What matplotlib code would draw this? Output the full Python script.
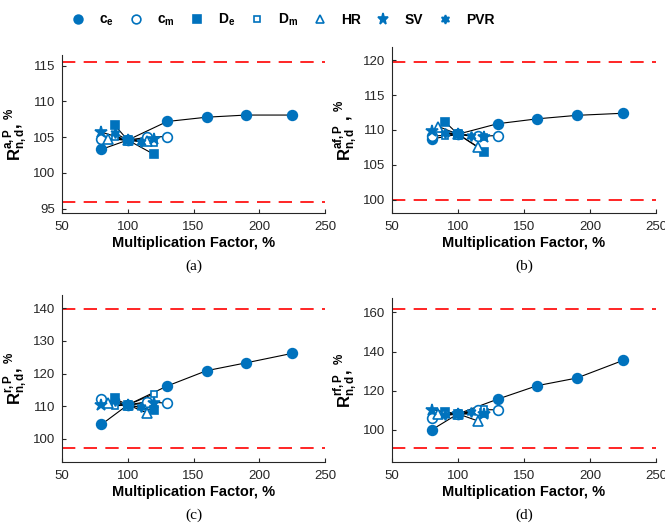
import matplotlib
matplotlib.use('Agg')
import matplotlib.pyplot as plt
from matplotlib.lines import Line2D

plt.rcParams['font.family'] = ['Liberation Sans', 'DejaVu Sans']
plt.rcParams['mathtext.fontset'] = 'custom'
plt.rcParams['mathtext.rm'] = 'Liberation Sans'
plt.rcParams['mathtext.bf'] = 'Liberation Sans:bold'
plt.rcParams['mathtext.it'] = 'Liberation Sans:italic'

BLUE = '#0072BD'

# multiplication factors (%) for each varied parameter
x_ce = [80, 100, 130, 160, 190, 225]
x_cm = [80, 100, 115, 130]
x_De = [90, 100, 120]
x_Dm = [90, 100, 120]
x_HR = [85, 100, 115]
x_SV = [80, 100, 120]
x_PVR = [90, 100, 110]

# panel (a) R^{a,P}
a_ce = [103.3, 104.6, 107.2, 107.8, 108.1, 108.1]
a_cm = [104.8, 104.6, 105.0, 105.1]
a_De = [106.7, 104.6, 102.6]
a_Dm = [105.0, 104.6, 104.2]
a_HR = [104.8, 104.6, 104.5]
a_SV = [105.7, 104.6, 104.7]
a_PVR = [105.6, 104.6, 104.4]

# panel (b) R^{af,P}
b_ce = [108.7, 109.4, 110.9, 111.6, 112.1, 112.4]
b_cm = [109.1, 109.4, 109.1, 109.2]
b_De = [111.2, 109.4, 106.9]
b_Dm = [109.1, 109.4, 109.0]
b_HR = [110.5, 109.4, 107.6]
b_SV = [109.9, 109.4, 109.0]
b_PVR = [109.6, 109.4, 109.1]

# panel (c) R^{r,P}
c_ce = [104.4, 110.4, 116.2, 120.9, 123.3, 126.2]
c_cm = [112.2, 110.4, 111.4, 110.9]
c_De = [112.4, 110.4, 108.7]
c_Dm = [110.1, 110.4, 113.8]
c_HR = [111.1, 110.4, 107.9]
c_SV = [110.4, 110.4, 111.1]
c_PVR = [111.5, 110.4, 109.7]

# panel (d) R^{rf,P}
d_ce = [100.0, 108.2, 115.7, 122.6, 126.5, 135.5]
d_cm = [106.3, 108.2, 110.3, 110.3]
d_De = [108.9, 108.2, 108.6]
d_Dm = [108.0, 108.2, 110.8]
d_HR = [108.2, 108.2, 104.6]
d_SV = [110.3, 108.2, 108.1]
d_PVR = [107.8, 108.2, 109.4]

# red dashed limits
a_lim = [96.0, 115.5]
b_lim = [99.9, 119.7]
c_lim = [97.2, 139.7]
d_lim = [90.9, 161.9]

hexagram = (6, 1, 0)
styles = [
    ('o', True, 7, r'$\mathbf{c_e}$'),
    ('o', False, 7, r'$\mathbf{c_m}$'),
    ('s', True, 6, r'$\mathbf{D_e}$'),
    ('s', False, 5, r'$\mathbf{D_m}$'),
    ('^', False, 7, 'HR'),
    ('*', True, 9, 'SV'),
    (hexagram, True, 7, 'PVR'),
]
xs = [x_ce, x_cm, x_De, x_Dm, x_HR, x_SV, x_PVR]

panels = [
    ([a_ce, a_cm, a_De, a_Dm, a_HR, a_SV, a_PVR], a_lim, (94.4, 116.5), [95, 100, 105, 110, 115],
     r'$\mathbf{R^{a,P}_{n,d}}$, $\mathbf{^{\%}}$', '(a)', [62, 55, 325, 213]),
    ([b_ce, b_cm, b_De, b_Dm, b_HR, b_SV, b_PVR], b_lim, (98.1, 121.9), [100, 105, 110, 115, 120],
     r'$\mathbf{R^{af,P}_{n,d}}$ , $\mathbf{^{\%}}$', '(b)', [392, 47, 656, 213]),
    ([c_ce, c_cm, c_De, c_Dm, c_HR, c_SV, c_PVR], c_lim, (92.9, 144.1), [100, 110, 120, 130, 140],
     r'$\mathbf{R^{r,P}_{n,d}}$, $\mathbf{^{\%}}$', '(c)', [62, 295, 325, 462]),
    ([d_ce, d_cm, d_De, d_Dm, d_HR, d_SV, d_PVR], d_lim, (83.6, 167.4), [100, 120, 140, 160],
     r'$\mathbf{R^{rf,P}_{n,d}}$, $\mathbf{^{\%}}$', '(d)', [392, 298, 656, 462]),
]

W, H = 665, 525
fig = plt.figure(figsize=(W / 100, H / 100), dpi=100)

for ys, lim, ylim, yticks, ylabel, tag, (l, t, r, b) in panels:
    ax = fig.add_axes([l / W, 1 - b / H, (r - l) / W, (b - t) / H])
    for xv, yv in zip(xs, ys):
        ax.plot(xv, yv, color='k', lw=0.8, zorder=2)
    for (m, filled, ms, _), xv, yv in zip(styles, xs, ys):
        ax.plot(xv, yv, ls='none', marker=m, ms=ms, mew=1.2, color=BLUE,
                mfc=BLUE if filled else 'white', zorder=3)
    for v in lim:
        ax.axhline(v, color='#FF0000', ls=(0, (8, 5)), lw=1.2, zorder=1)
    ax.set_xlim(50, 250)
    ax.set_xticks([50, 100, 150, 200, 250])
    ax.set_ylim(*ylim)
    ax.set_yticks(yticks)
    ax.spines['top'].set_visible(False)
    ax.spines['right'].set_visible(False)
    for s in ('left', 'bottom'):
        ax.spines[s].set_color('#262626')
        ax.spines[s].set_linewidth(0.8)
    ax.tick_params(direction='in', length=3, labelsize=9.5, colors='#262626', width=0.8)
    ax.tick_params(axis='x', pad=6)
    ax.tick_params(axis='y', pad=5)
    ax.set_xlabel('Multiplication Factor, %', fontsize=10.5, fontweight='bold', labelpad=2)
    ax.set_ylabel(ylabel, fontsize=12, fontweight='bold', labelpad=2)
    fig.text((l + r) / 2 / W, 1 - (b + 53) / H, tag, ha='center', va='center',
             fontsize=11, family='Liberation Serif')

handles = [Line2D([], [], ls='none', marker=m, ms=ms * 0.9, mew=1.2, color=BLUE,
                  mfc=BLUE if filled else 'white', label=lab)
           for m, filled, ms, lab in styles]
fig.legend(handles=handles, loc='center', bbox_to_anchor=(0.425, 0.962), ncol=7,
           frameon=False, handlelength=1.0, handletextpad=1.0, columnspacing=1.1,
           prop={'weight': 'bold', 'size': 10})

fig.savefig('out.png', dpi=100)
